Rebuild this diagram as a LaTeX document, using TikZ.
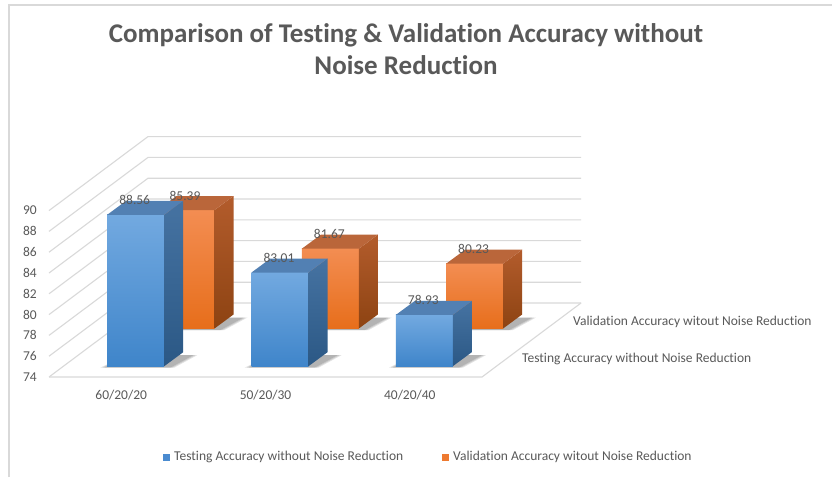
\documentclass[tikz,border=0pt]{standalone}
\usepackage{fontspec}
\setmainfont{Carlito}[Ligatures=NoCommon]
\usetikzlibrary{calc}
\definecolor{txt}{HTML}{595959}
\definecolor{gridc}{HTML}{D9D9D9}
\definecolor{framec}{HTML}{D9D9D9}
\definecolor{bfront1}{HTML}{72A9E0}
\definecolor{bfront2}{HTML}{3F85CA}
\definecolor{bside1}{HTML}{4673A2}
\definecolor{bside2}{HTML}{2B5885}
\definecolor{btop}{HTML}{5280B3}
\definecolor{ofront1}{HTML}{F38D52}
\definecolor{ofront2}{HTML}{E76E1B}
\definecolor{oside1}{HTML}{B35C2C}
\definecolor{oside2}{HTML}{8D4312}
\definecolor{otop}{HTML}{BA663A}
\definecolor{blegend}{HTML}{4A8BD0}
\definecolor{olegend}{HTML}{EE7A30}
\tikzset{
  gridline/.style={draw=gridc, line width=1.1pt},
  framel/.style={draw=framec, line width=1.6pt},
  axlab/.style={text=txt, font=\fontsize{13.5}{15}\selectfont, inner sep=0pt},
  datalab/.style={text=txt, font=\fontsize{13.5}{15}\selectfont, inner sep=0pt},
  titlelab/.style={text=txt, font=\fontsize{27}{32}\selectfont\bfseries, align=center, inner sep=0pt},
}
\newcommand\mybar[5]{%
  \pgfmathsetmacro\xl{#1}%
  \pgfmathsetmacro\xr{#1+57}%
  \pgfmathsetmacro\yb{#2}%
  \pgfmathsetmacro\yt{#2-(#3-74)*10.4}%
  \foreach \e in {0,2,4}{%
    \fill[black, opacity=0.11] ({\xl-3-\e},{\yb+1.5}) -- ({\xr+6+\e},{\yb+1.5}) -- ({\xr+19+10+\e},{\yb-11}) -- ({\xl+19},{\yb-11}) -- cycle;
  }
  \shade[top color=#4front1, bottom color=#4front2] (\xl,\yb) rectangle (\xr,\yt);
  \shade[top color=#4side1, bottom color=#4side2] (\xr,\yb) -- ({\xr+19},{\yb-14}) -- ({\xr+19},{\yt-14}) -- (\xr,\yt) -- cycle;
  \fill[#4top] (\xl,\yt) -- ({\xl+19},{\yt-14}) -- ({\xr+19},{\yt-14}) -- (\xr,\yt) -- cycle;
  \coordinate (#5) at ({\xl+27.5},{\yt-14.5});
}
\begin{document}
\begin{tikzpicture}[x=1pt,y=-1pt]
\useasboundingbox (0,0) rectangle (832,477);
\fill[white] (0,0) rectangle (832,477);
% frame
\draw[framel] (9,477) -- (9,5) -- (832,5);
% title
\node[titlelab] (title) at (406,49) {Comparison of Testing \& Validation Accuracy without\\Noise Reduction};
% walls
\foreach \v in {74,76,...,90}{
  \pgfmathsetmacro\yy{377-(\v-74)*10.4}
  \draw[gridline] (49,\yy) -- (148,{\yy-74}) -- (581,{\yy-74});
  \node[axlab, anchor=east] (y\v) at (37,\yy) {\v};
}
\draw[gridline] (49,377) -- (482,377) -- (581,303);
% back row (validation)
\mybar{157.5}{328.5}{85.39}{o}{o1}
\mybar{301.8}{328.5}{81.67}{o}{o2}
\mybar{446.1}{328.5}{80.23}{o}{o3}
% front row (testing)
\mybar{107.2}{366.2}{88.56}{b}{b1}
\mybar{251.5}{366.2}{83.01}{b}{b2}
\mybar{395.8}{366.2}{78.93}{b}{b3}
% data labels
\node[datalab] (lo1) at (o1) {85.39};
\node[datalab] (lo2) at (o2) {81.67};
\node[datalab] (lo3) at (o3) {80.23};
\node[datalab] (lb1) at (b1) {88.56};
\node[datalab] (lb2) at (b2) {83.01};
\node[datalab] (lb3) at (b3) {78.93};
% category labels
\node[axlab] (c1) at (121.2,395) {60/20/20};
\node[axlab] (c2) at (265.5,395) {50/20/30};
\node[axlab] (c3) at (409.8,395) {40/20/40};
% series labels
\node[axlab, anchor=west] (s1) at (522,359) {Testing Accuracy without Noise Reduction};
\node[axlab, anchor=west] (s2) at (573,322) {Validation Accuracy witout Noise Reduction};
% legend
\fill[blegend] (163,453.5) rectangle (170,460.5);
\node[axlab, anchor=west] (l1) at (174,457) {Testing Accuracy without Noise Reduction};
\fill[olegend] (442,453.5) rectangle (449,460.5);
\node[axlab, anchor=west] (l2) at (453,457) {Validation Accuracy witout Noise Reduction};
\end{tikzpicture}
\end{document}
